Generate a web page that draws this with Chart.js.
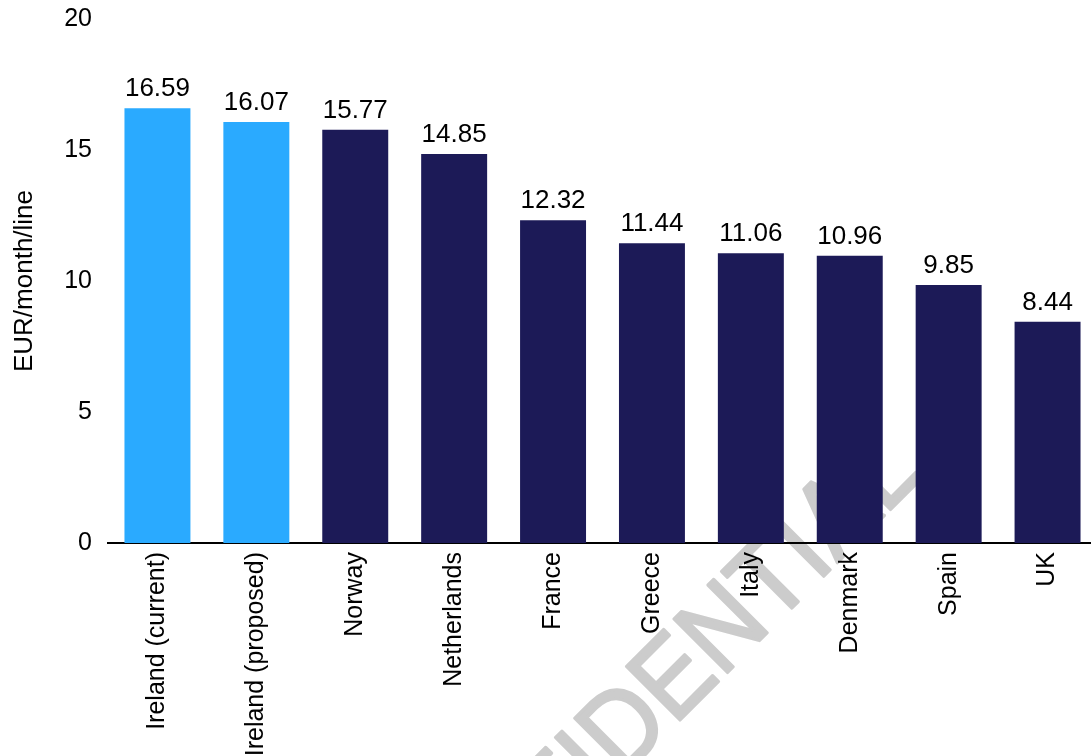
<!DOCTYPE html>
<html>
<head>
<meta charset="utf-8">
<script src="https://cdn.jsdelivr.net/npm/chart.js@4/dist/chart.umd.min.js"></script>
<style>
  html, body { margin: 0; padding: 0; background: #fff; overflow: hidden; }
  #wrap { position: relative; width: 1097px; height: 756px; }
</style>
</head>
<body>
<div id="wrap"><canvas id="chart"></canvas></div>
<script>
// monthly price per line, by country
const countries = ['Ireland (current)', 'Ireland (proposed)', 'Norway', 'Netherlands', 'France',
                   'Greece', 'Italy', 'Denmark', 'Spain', 'UK'];
const pricePerLine = [16.59, 16.07, 15.77, 14.85, 12.32, 11.44, 11.06, 10.96, 9.85, 8.44];
const yTicks = [0, 5, 10, 15, 20];

const IRELAND_BLUE = '#2aaaff';
const NAVY = '#1c1a57';
const FONT = '"Liberation Sans", Arial, sans-serif';

const barColours = countries.map(c => c.startsWith('Ireland') ? IRELAND_BLUE : NAVY);

// value printed above each bar
const valueLabels = {
  id: 'valueLabels',
  afterDatasetsDraw(chart) {
    const ctx = chart.ctx;
    const meta = chart.getDatasetMeta(0);
    ctx.save();
    ctx.font = '26px ' + FONT;
    ctx.fillStyle = '#000';
    ctx.textAlign = 'center';
    ctx.textBaseline = 'alphabetic';
    meta.data.forEach((bar, i) => {
      ctx.fillText(pricePerLine[i].toFixed(2), bar.x, bar.y - 12);
    });
    ctx.restore();
  }
};

// grey "CONFIDENTIAL" stamp, underneath everything else
const stamp = {
  id: 'stamp',
  beforeDraw(chart) {
    const ctx = chart.ctx;
    ctx.save();
    ctx.translate(662, 738);
    ctx.rotate(-45 * Math.PI / 180);
    ctx.scale(0.92, 1);
    ctx.font = '110px ' + FONT;
    ctx.fillStyle = '#cccccc';
    ctx.strokeStyle = '#cccccc';
    ctx.lineWidth = 3;
    ctx.lineJoin = 'round';
    ctx.textAlign = 'center';
    ctx.textBaseline = 'alphabetic';
    ctx.fillText('CONFIDENTIAL', 0, 0);
    ctx.strokeText('CONFIDENTIAL', 0, 0);
    ctx.restore();
  }
};

new Chart(document.getElementById('chart'), {
  type: 'bar',
  data: {
    labels: countries,
    datasets: [{
      data: pricePerLine,
      backgroundColor: barColours,
      borderWidth: 0,
      categoryPercentage: 1,
      barPercentage: 0.667
    }]
  },
  options: {
    responsive: true,
    maintainAspectRatio: false,
    animation: false,
    events: [],
    layout: { padding: { top: 2, right: 0, bottom: 0, left: 0 } },
    plugins: {
      legend: { display: false },
      tooltip: { enabled: false }
    },
    scales: {
      x: {
        grid: { display: false, drawTicks: false },
        border: { display: true, color: '#000', width: 2 },
        ticks: {
          color: '#000',
          font: { family: FONT, size: 25 },
          maxRotation: 90,
          minRotation: 90,
          padding: 9,
          autoSkip: false
        },
        afterFit(scale) { scale.height = 213; }
      },
      y: {
        min: 0,
        max: 20,
        afterBuildTicks(scale) { scale.ticks = yTicks.map(v => ({ value: v })); },
        // invisible tick marks keep the labels clear of the bars
        grid: { display: false, drawTicks: true, tickLength: 12 },
        border: { display: false },
        ticks: {
          color: '#000',
          font: { family: FONT, size: 25 },
          padding: 4
        },
        title: {
          display: true,
          text: 'EUR/month/line',
          color: '#000',
          font: { family: FONT, size: 26 },
          padding: { top: 9, bottom: 0 }
        },
        afterFit(scale) { scale.width = 108; }
      }
    }
  },
  plugins: [stamp, valueLabels]
});
</script>
</body>
</html>
